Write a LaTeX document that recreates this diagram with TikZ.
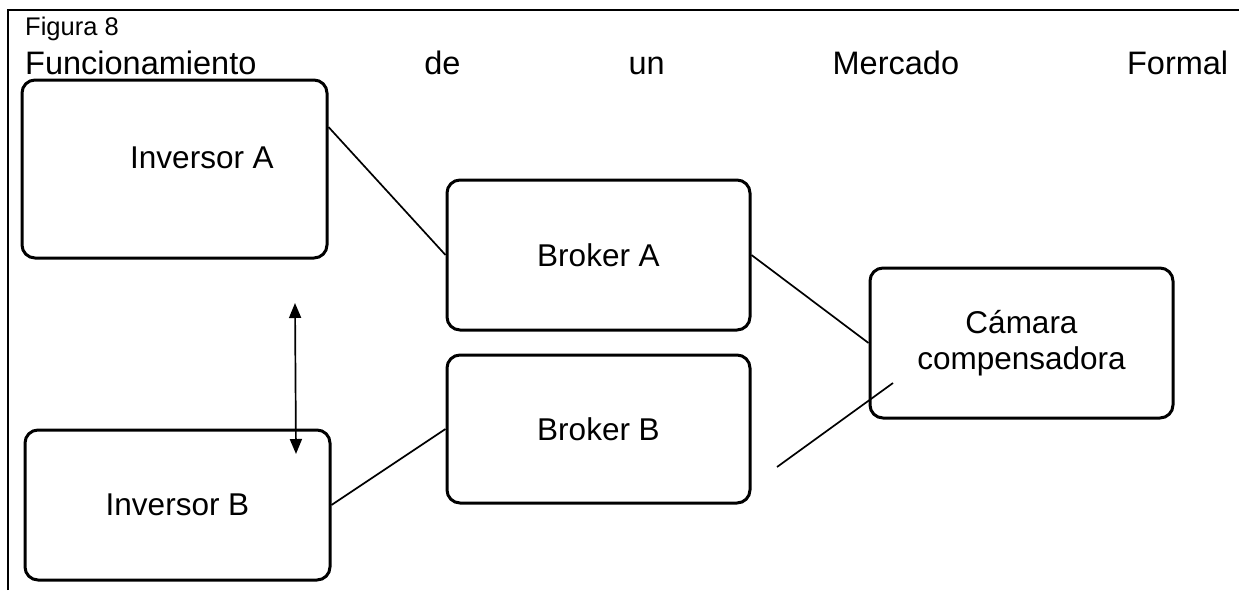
\documentclass[tikz,border=0pt]{standalone}
\usepackage{fontspec}
\setmainfont{Liberation Sans}
\usetikzlibrary{arrows.meta,calc}
\begin{document}
\begin{tikzpicture}[x=1pt,y=-1pt,
  boxfont/.style={font=\fontsize{31.5}{36}\selectfont},
  box/.style={draw,line width=3pt,rounded corners=13pt,inner sep=0pt,boxfont,align=center},
  conn/.style={line width=1.7pt},
  frame/.style={line width=2.6pt}]
\useasboundingbox (0,0) rectangle (1239,590);
\coordinate (fb) at (1239,10);
\coordinate (fc) at (8,590);
\draw[frame] (fc) -- (8,10) -- (fb);
\node[anchor=base west,inner sep=0pt,font=\fontsize{25.5}{28}\selectfont] (fig) at (25,35) {Figura 8};
\node[anchor=base west,inner sep=0pt,font=\fontsize{32.5}{34}\selectfont] (title) at (25,74)
  {\hbox to 1203pt{Funcionamiento\hfill de\hfill un\hfill Mercado\hfill Formal}};
\node[box,minimum width=305pt,minimum height=178pt] (invA) at (174.5,169) {};
\node[inner sep=0pt,boxfont] (invAt) at (202,158) {Inversor A};
\node[box,minimum width=303pt,minimum height=150pt] (brA) at (598.5,255) {Broker A};
\node[box,minimum width=303pt,minimum height=150pt] (cam) at (1021.5,343) {Cámara\\compensadora};
\node[box,minimum width=303pt,minimum height=148pt] (brB) at (598.5,429) {Broker B};
\node[box,minimum width=305pt,minimum height=150pt] (invB) at (177.5,505) {Inversor B};
\draw[conn] ([yshift=42pt]invA.east) -- (brA.west);
\draw[conn] (brA.east) -- (cam.west);
\draw[conn] (brB.west) -- (invB.east);
\coordinate (la) at (777,467);
\coordinate (lb) at (893,383);
\draw[conn] (la) -- (lb);
\coordinate (aa) at (295,303);
\coordinate (ab) at (296,454);
\draw[conn,{Triangle[width=12pt,length=15pt]}-{Triangle[width=12pt,length=15pt]}] (aa) -- (ab);
\end{tikzpicture}
\end{document}
